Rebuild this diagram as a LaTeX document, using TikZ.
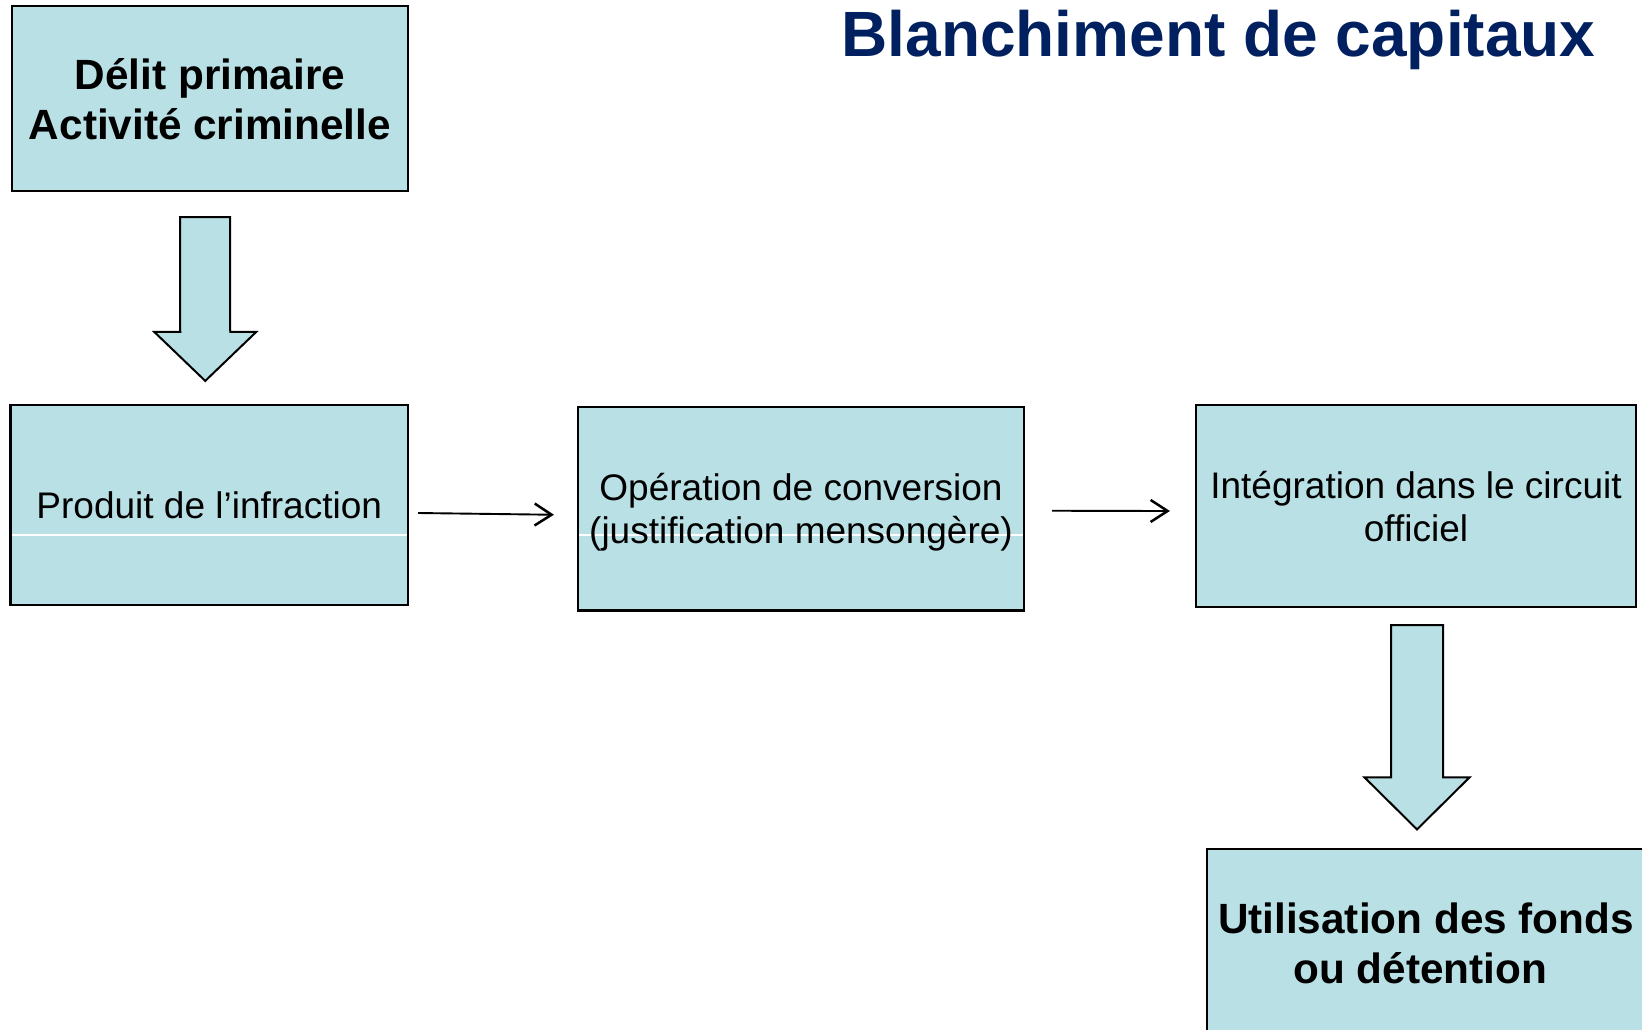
\documentclass[tikz,border=0pt]{standalone}
\usepackage{fontspec}
\setmainfont{Liberation Sans}
\usetikzlibrary{arrows.meta,calc}
\definecolor{boxfill}{RGB}{185,224,228}
\definecolor{titleblue}{RGB}{0,32,96}
\begin{document}
\begin{tikzpicture}[x=1pt,y=-1pt,
  box/.style={draw=black, line width=2.2pt, fill=boxfill, align=center, inner sep=0pt, text depth=0pt},
  plain/.style={font=\fontsize{37}{43}\selectfont},
  strong/.style={font=\fontsize{42.3}{50}\selectfont\bfseries},
  thinarrow/.style={line width=1.9pt, -{Straight Barb[length=17pt,width=22pt,line width=2.5pt]}},
  bigarrow/.style={draw=black, line width=2pt, fill=boxfill, line join=miter},
  whiteline/.style={path picture={\draw[white,line width=1.2pt] ([yshift=-#1pt]path picture bounding box.west) -- ([yshift=-#1pt]path picture bounding box.east);}}
]
\useasboundingbox (0,0) rectangle (1642,1029);
\clip (0,0) rectangle (1642,1029);

\node[font=\fontsize{64}{70}\selectfont\bfseries, text=titleblue, anchor=base] (title) at (1218.5,56) {Blanchiment de capitaux};

\node[box,strong,minimum width=396pt,minimum height=185pt] (b1) at (210,98.5) {Délit primaire\\Activité criminelle};
\node[box,plain,whiteline=30,minimum width=397.5pt,minimum height=200pt] (b2) at (209.25,505) {Produit de l’infraction};
\node[box,plain,whiteline=26.25,minimum width=446pt,minimum height=203.5pt] (b3) at (801,508.75) {Opération de conversion\\(justification mensongère)};
\node[box,plain,minimum width=440pt,minimum height=202pt] (b4) at (1416,506) {Intégration dans le circuit\\officiel};
\node[box,strong,minimum width=438pt,minimum height=188pt] (b5) at (1426,943) {Utilisation des fonds\\ou détention\hspace*{11.7pt}};

% thin connectors
\draw[thinarrow] ($(b2.east)+(9,8)$) -- ($(b3.west)+(-23,6)$);
\draw[thinarrow] ($(b3.east)+(27,2)$) -- ($(b4.west)+(-25,5)$);

% block arrows
\coordinate (a1s) at ($(b1.south)+(-5,25)$);
\coordinate (a1e) at ($(b2.north)+(-4,-23)$);
\draw[bigarrow] ($(a1s)+(-25,0)$) -- ($(a1s)+(25,0)$) -- ($(a1e)+(25,-49)$) -- ($(a1e)+(51,-49)$) -- (a1e) -- ($(a1e)+(-51,-49)$) -- ($(a1e)+(-25,-49)$) -- cycle;

\coordinate (a2s) at ($(b4.south)+(1,17)$);
\coordinate (a2e) at ($(b5.north)+(-9,-18.5)$);
\draw[bigarrow] ($(a2s)+(-26,0)$) -- ($(a2s)+(26,0)$) -- ($(a2e)+(26,-52)$) -- ($(a2e)+(52.5,-52)$) -- (a2e) -- ($(a2e)+(-52.5,-52)$) -- ($(a2e)+(-26,-52)$) -- cycle;
\end{tikzpicture}
\end{document}
